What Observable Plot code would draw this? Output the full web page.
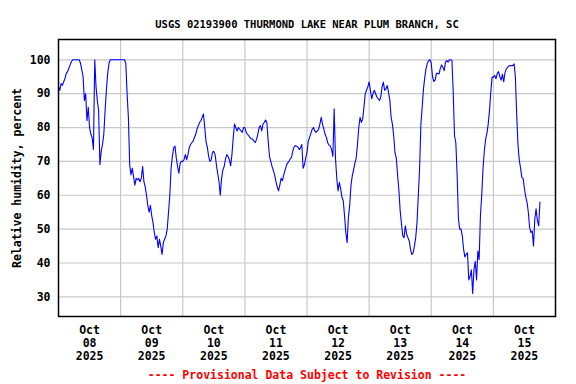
<!DOCTYPE html>
<html><head><meta charset="utf-8">
<script src="https://cdn.jsdelivr.net/npm/d3@7"></script>
<script src="https://cdn.jsdelivr.net/npm/@observablehq/plot@0.6"></script>
<style>body{margin:0;background:#fff}</style>
</head><body><div id="chart"></div>
<script>
const title = "USGS 02193900 THURMOND LAKE NEAR PLUM BRANCH, SC";
const yLabel = "Relative humidity, percent";
const footer = "---- Provisional Data Subject to Revision ----";
const startUTC = "2025-10-08T00:00:00Z"; // half-hourly readings from here
const stepMinutes = 30;
const rhOct08 = [92, 91, 93, 92.5, 93.5, 94.5, 96, 96.5, 97.5, 98.5, 99.5, 100,
  100, 100, 100, 100, 100, 99, 97, 95, 88, 90, 82, 86,
  80, 78, 77, 73.5, 100, 92, 88, 85, 69, 73, 75, 78,
  85, 91, 96, 99, 100, 100, 100, 100, 100, 100, 100, 100];
const rhOct09 = [100, 100, 100, 100, 99, 90, 83, 69, 66, 68, 65.5, 63,
  65, 64.5, 65, 64, 65, 68.5, 64, 62.5, 60, 57, 55, 57,
  54, 52, 49, 47, 48, 44.5, 47, 45, 42.5, 46, 47, 48,
  50, 55, 60, 68, 71.5, 74, 74.5, 71, 68.5, 66.5, 69.5, 70];
const rhOct10 = [70, 70.5, 72, 70.5, 72, 74, 75, 75.5, 76, 77, 78, 79.5,
  80.5, 81.5, 82, 83, 84, 80, 75.8, 74.2, 71.5, 70, 70.5, 72.7,
  73, 72, 69, 66.5, 64, 60, 65, 67.5, 68.5, 70.7, 72, 71.5,
  70.5, 68.7, 72, 77, 81, 80, 79, 80, 79.5, 79, 78.6, 80];
const rhOct11 = [80, 78.6, 78, 77.6, 77, 76.6, 76.6, 76, 75.6, 76.5, 78, 80,
  80.6, 79, 81, 81.5, 82.2, 81.5, 76, 71.5, 70, 68.5, 67.3, 66,
  64, 62.5, 61.3, 63, 65, 64.3, 66, 67.3, 68.7, 69.5, 70, 70.7,
  71.2, 73, 74.2, 74.7, 74.5, 74.2, 73.5, 74, 75, 68, 69, 71];
const rhOct12 = [72.7, 76, 77.1, 78.3, 79.5, 80, 79, 78.6, 79, 79.5, 81.1, 83,
  81, 79.5, 78, 77.1, 75.5, 74.8, 74.5, 73.5, 71.5, 85.5, 71, 65,
  61.3, 63.8, 62, 59.4, 58.4, 54, 49, 46, 53.5, 57, 63, 65.8,
  67.5, 69.5, 71, 75, 80, 83, 81.5, 82.5, 86, 90, 91, 92];
const rhOct13 = [93.5, 91, 88.5, 90, 91, 90, 89, 88.5, 88, 89, 92, 93.4,
  91, 91.4, 92.4, 90.4, 88, 83, 81, 77.5, 72.5, 71, 66, 61.5,
  55.4, 51.5, 48, 47.5, 51, 48.5, 47.5, 46.5, 44, 42.5, 43, 45,
  47.5, 52, 60, 68, 81, 86, 91.5, 94.8, 97.5, 99, 99.8, 100];
const rhOct14 = [99, 95, 93.6, 94, 96, 96, 95.8, 97.5, 98.5, 97.8, 96.8, 99.3,
  99.8, 99.3, 100, 100, 99.8, 90, 77.5, 75.5, 66, 53, 50, 50,
  48, 44, 41.8, 42.6, 43, 35, 36, 38, 31, 38, 40.5, 35,
  43.5, 41, 54, 60, 68, 73, 76.5, 78.3, 81, 85, 90.5, 94.9];
const rhOct15 = [94.9, 95.4, 94.4, 96, 96.5, 95, 94, 95.8, 93.5, 96.3, 97.3, 97.8,
  98.2, 98.3, 98.3, 98.3, 98.8, 95, 84, 75, 70.5, 68, 65.3, 65,
  62, 59.5, 58, 55, 50.5, 49, 49.5, 45, 53, 56, 52.5, 51, 58];
const yTicks = [30, 40, 50, 60, 70, 80, 90, 100];
const dayStarts = ["2025-10-08", "2025-10-09", "2025-10-10", "2025-10-11", "2025-10-12", "2025-10-13", "2025-10-14", "2025-10-15", "2025-10-16"];

const values = [rhOct08, rhOct09, rhOct10, rhOct11, rhOct12, rhOct13, rhOct14, rhOct15].flat();
const t0 = new Date(startUTC).getTime();
const data = values.map((v, i) => ({t: new Date(t0 + i * stepMinutes * 60e3), v}));
const days = dayStarts.map(d => new Date(d + "T00:00:00Z"));
const gridDays = days.slice(1, -1);
const noonTicks = days.slice(0, -1).map(d => new Date(d.getTime() + 12 * 3600e3));
const fmt = d3.utcFormat("%b\n%d\n%Y");

const chart = Plot.plot({
  width: 576,
  height: 384,
  marginLeft: 58,
  marginRight: 21,
  marginTop: 39,
  marginBottom: 68,
  style: {fontFamily: "'DejaVu Sans Mono', monospace", fontSize: "11.5px", fontWeight: "bold", background: "white", color: "black"},
  x: {type: "utc", domain: [days[0], days[days.length - 1]]},
  y: {domain: [24.2, 106]},
  marks: [
    Plot.gridX(gridDays, {stroke: "#c8c8c8", strokeOpacity: 1, strokeWidth: 1.2}),
    Plot.gridY(yTicks, {stroke: "#c8c8c8", strokeOpacity: 1, strokeWidth: 1.2}),
    Plot.line(data, {x: "t", y: "v", stroke: "#0000ff", strokeWidth: 1.1}),
    Plot.frame({stroke: "black", strokeWidth: 1.5}),
    Plot.axisY(yTicks, {tickSize: 0, tickPadding: 8, label: yLabel, labelAnchor: "center", labelArrow: "none", labelOffset: 46, fontSize: 11.5}),
    Plot.axisX(noonTicks, {tickSize: 0, tickPadding: 8, tickFormat: fmt, label: null, lineHeight: 1.13, fontSize: 11.5}),
    Plot.text([title], {frameAnchor: "top", dy: -19, fontSize: 10.5, fontWeight: "bold"}),
    Plot.text([footer], {frameAnchor: "bottom", dy: 62, fill: "#ff0000", fontSize: 11.5, fontWeight: "bold"})
  ]
});
document.getElementById("chart").appendChild(chart);
</script>
</body></html>
